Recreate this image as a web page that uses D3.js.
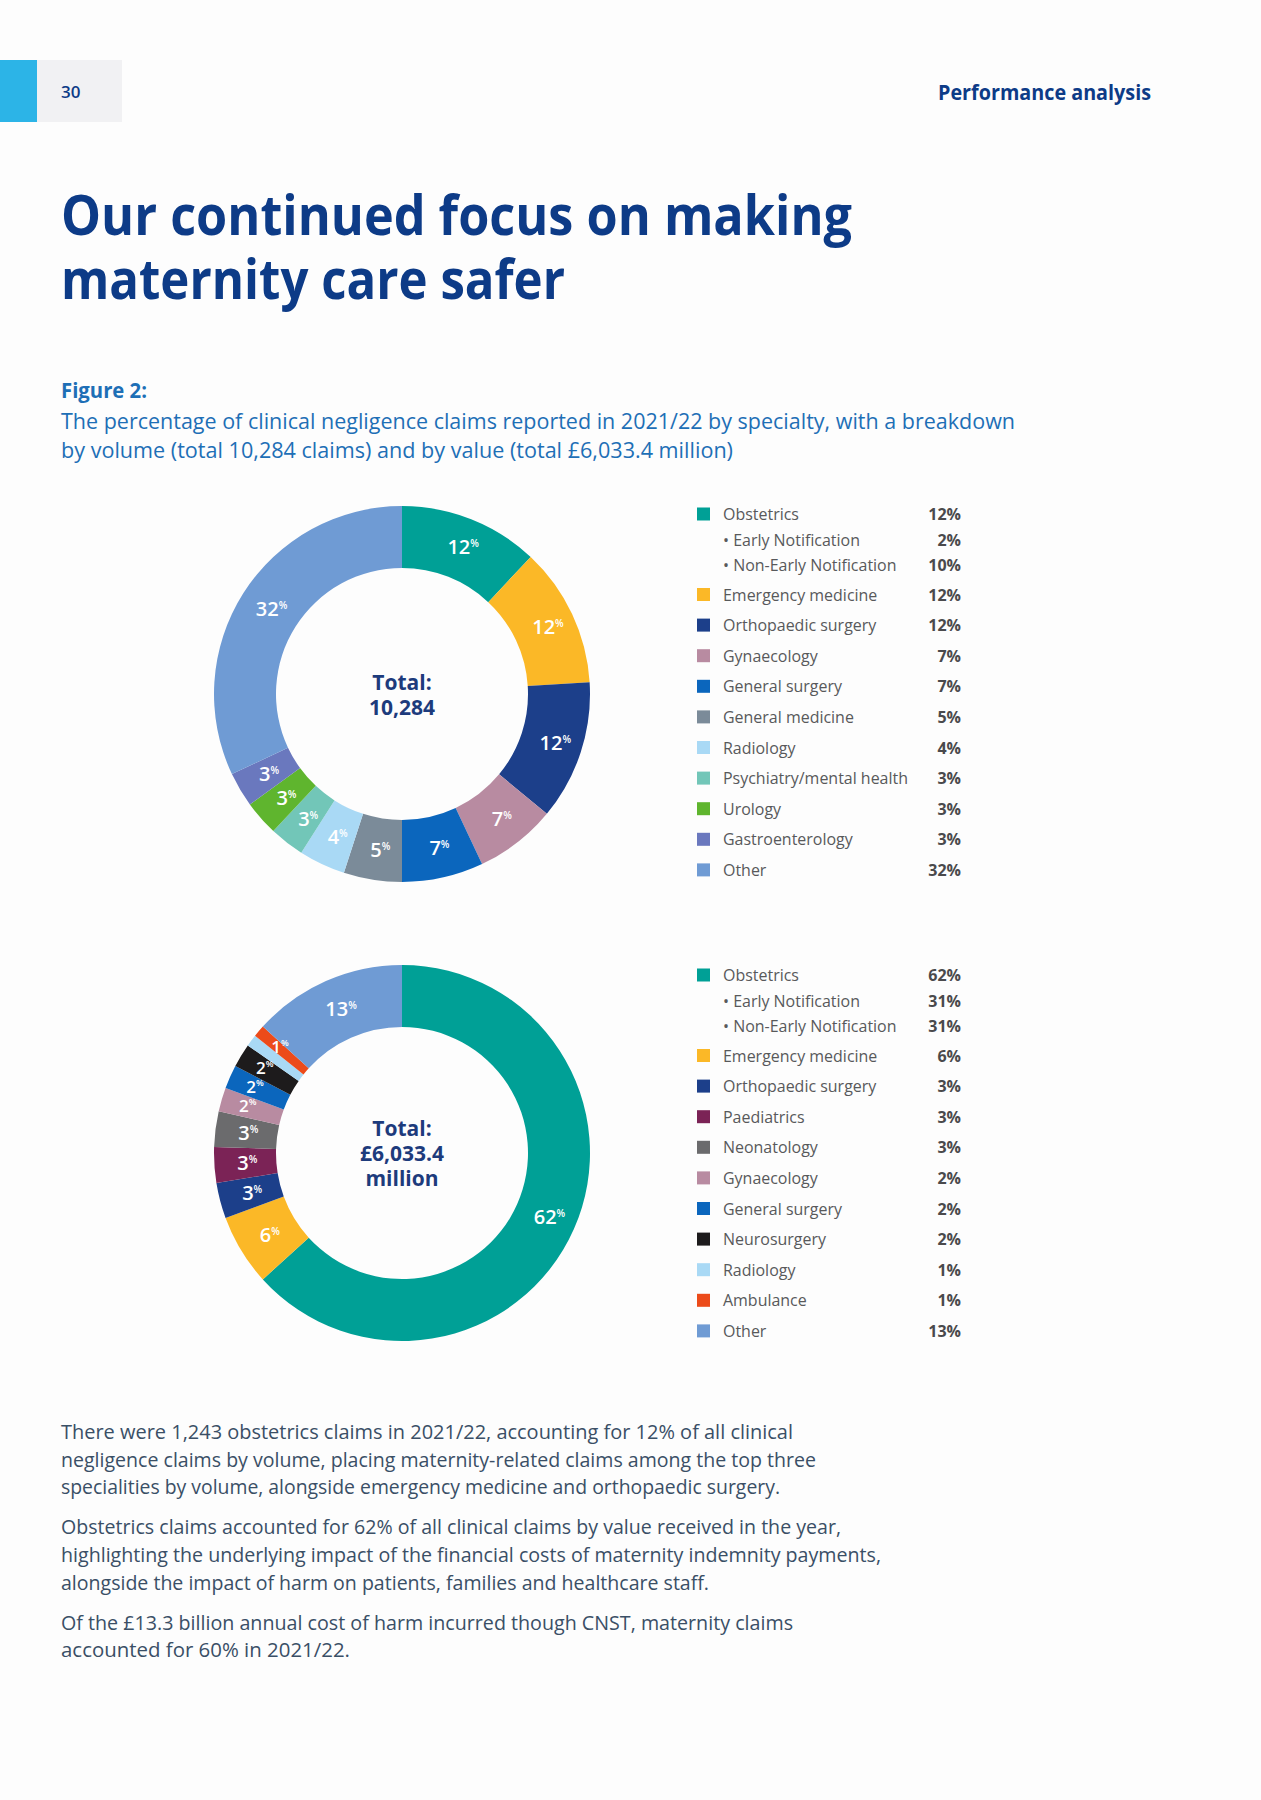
<!DOCTYPE html>
<html>
<head>
<meta charset="utf-8">
<script src="https://cdn.jsdelivr.net/npm/d3@7"></script>
<style>
  html, body { margin: 0; padding: 0; background: #fdfdfd; }
  svg { display: block; }
  text { font-family: "Open Sans", "Noto Sans", sans-serif; }
</style>
</head>
<body>
<svg id="page" width="1261" height="1800"></svg>
<script>
// ---------------- DATA ----------------
const volumeCategories = ["Obstetrics", "Emergency medicine", "Orthopaedic surgery", "Gynaecology",
  "General surgery", "General medicine", "Radiology", "Psychiatry/mental health", "Urology",
  "Gastroenterology", "Other"];
const volumeValues = [12, 12, 12, 7, 7, 5, 4, 3, 3, 3, 32];
const volumeObstetricsSub = ["Early Notification", "Non-Early Notification"];
const volumeObstetricsSubValues = [2, 10];
const volumeTotalLines = ["Total:", "10,284"];

const valueCategories = ["Obstetrics", "Emergency medicine", "Orthopaedic surgery", "Paediatrics",
  "Neonatology", "Gynaecology", "General surgery", "Neurosurgery", "Radiology", "Ambulance", "Other"];
const valueValues = [62, 6, 3, 3, 3, 2, 2, 2, 1, 1, 13];
const valueLabelShown = [true, true, true, true, true, true, true, true, false, true, true];
const valueObstetricsSub = ["Early Notification", "Non-Early Notification"];
const valueObstetricsSubValues = [31, 31];
const valueTotalLines = ["Total:", "£6,033.4", "million"];

const titleLines = ["Our continued focus on making", "maternity care safer"];
const captionLines = [
  "The percentage of clinical negligence claims reported in 2021/22 by specialty, with a breakdown",
  "by volume (total 10,284 claims) and by value (total £6,033.4 million)"
];
const bodyLines = [
  "There were 1,243 obstetrics claims in 2021/22, accounting for 12% of all clinical",
  "negligence claims by volume, placing maternity-related claims among the top three",
  "specialities by volume, alongside emergency medicine and orthopaedic surgery.",
  "Obstetrics claims accounted for 62% of all clinical claims by value received in the year,",
  "highlighting the underlying impact of the financial costs of maternity indemnity payments,",
  "alongside the impact of harm on patients, families and healthcare staff.",
  "Of the £13.3 billion annual cost of harm incurred though CNST, maternity claims",
  "accounted for 60% in 2021/22."
];

// ---------------- STYLES ----------------
const colorOf = {
  "Obstetrics": "#00a096",
  "Emergency medicine": "#fbb827",
  "Orthopaedic surgery": "#1c3f8a",
  "Gynaecology": "#b88ba1",
  "General surgery": "#0b66bd",
  "General medicine": "#7b8b99",
  "Radiology": "#a9d9f5",
  "Psychiatry/mental health": "#72c6b8",
  "Urology": "#5fb52e",
  "Gastroenterology": "#6a78be",
  "Other": "#6f9bd4",
  "Paediatrics": "#7b2356",
  "Neonatology": "#6b6b6d",
  "Neurosurgery": "#1d1b1c",
  "Ambulance": "#ec4b1a"
};
const navy = "#0d3b87";
const captionBlue = "#1e6fb6";
const bodyGrey = "#3a4f66";
const legendGrey = "#58595b";
const legendBold = "#4a4a4c";

const svg = d3.select("#page");

function fit(sel, w) {
  sel.attr("textLength", w).attr("lengthAdjust", "spacingAndGlyphs");
  return sel;
}

// ---------------- HEADER ----------------
svg.append("rect").attr("x", 0).attr("y", 60).attr("width", 37).attr("height", 62).attr("fill", "#2cb4e7");
svg.append("rect").attr("x", 37).attr("y", 60).attr("width", 85).attr("height", 62).attr("fill", "#f1f1f3");
svg.append("text").attr("x", 61).attr("y", 98).attr("font-size", 17).attr("font-weight", 600)
  .attr("fill", navy).text("30");
fit(svg.append("text").attr("x", 938).attr("y", 100).attr("font-size", 21).attr("font-weight", 700)
  .attr("fill", navy).text("Performance analysis"), 213);

// ---------------- TITLE ----------------
const titleW = [791, 504];
titleLines.forEach((t, i) => {
  fit(svg.append("text").attr("x", 61).attr("y", 235 + i * 64).attr("font-size", 56)
    .attr("font-weight", 700).attr("fill", navy).text(t), titleW[i]);
});

// ---------------- CAPTION ----------------
fit(svg.append("text").attr("x", 61).attr("y", 398).attr("font-size", 21).attr("font-weight", 700)
  .attr("fill", captionBlue).text("Figure 2:"), 86);
const capW = [954, 672];
captionLines.forEach((t, i) => {
  fit(svg.append("text").attr("x", 61).attr("y", 429 + i * 29).attr("font-size", 21)
    .attr("fill", captionBlue).text(t), capW[i]);
});

// ---------------- DONUTS ----------------
const R = 188, r = 126, labelR = 158;
const pie = d3.pie().sort(null).value(d => d.value).startAngle(0).endAngle(2 * Math.PI);
const arc = d3.arc().innerRadius(r).outerRadius(R);
const labelArc = d3.arc().innerRadius(labelR).outerRadius(labelR);
const smallLabelArc = d3.arc().innerRadius(164).outerRadius(164);

function donut(cx, cy, cats, vals, shown, totalLines) {
  const data = cats.map((c, i) => ({ cat: c, value: vals[i], show: shown ? shown[i] : true }));
  const g = svg.append("g").attr("transform", `translate(${cx},${cy})`);
  const arcs = pie(data);
  g.selectAll("path.slice").data(arcs).join("path").attr("class", "slice")
    .attr("d", arc).attr("fill", d => colorOf[d.data.cat]);
  const lab = g.selectAll("text.lab").data(arcs.filter(d => d.data.show)).join("text").attr("class", "lab")
    .attr("transform", d => {
      const small = d.data.value <= 2;
      const [x, y] = (small ? smallLabelArc : labelArc).centroid(d);
      return `translate(${x + 3},${y + (small ? 6 : 7)})`;
    })
    .attr("text-anchor", "middle").attr("fill", "#ffffff");
  lab.append("tspan").attr("font-size", d => d.data.value <= 2 ? 17 : 20).attr("font-weight", 600).text(d => d.data.value);
  lab.append("tspan").attr("font-size", d => d.data.value <= 2 ? 9 : 10).attr("font-weight", 600).attr("dy", -7).text("%");
  const n = totalLines.length;
  totalLines.forEach((t, i) => {
    g.append("text").attr("x", 0).attr("y", (i - (n - 1) / 2) * 25 + 8)
      .attr("text-anchor", "middle").attr("font-size", 21).attr("font-weight", 700)
      .attr("fill", "#1d3b7c").text(t);
  });
}
donut(402, 694, volumeCategories, volumeValues, null, volumeTotalLines);
donut(402, 1153, valueCategories, valueValues, valueLabelShown, valueTotalLines);

// ---------------- LEGENDS ----------------
const probe = svg.append("text").attr("font-size", 16.5).text("Psychiatry/mental health");
const legendFactor = 185 / probe.node().getComputedTextLength();
probe.remove();

function legend(y0, cats, vals, subs, subVals) {
  const g = svg.append("g");
  const rows = [];
  rows.push({ label: cats[0], value: vals[0], y: y0, sq: colorOf[cats[0]] });
  subs.forEach((s, i) => rows.push({ label: "• " + s, value: subVals[i], y: y0 + 25.5 * (i + 1), sq: null }));
  cats.slice(1).forEach((c, i) => rows.push({ label: c, value: vals[i + 1], y: y0 + 51 + 29.5 + 30.6 * i, sq: colorOf[c] }));
  rows.forEach(rw => {
    if (rw.sq) g.append("rect").attr("x", 697).attr("y", rw.y - 6.5).attr("width", 13).attr("height", 13).attr("fill", rw.sq);
    const t = g.append("text").attr("x", 723).attr("y", rw.y + 6).attr("font-size", 16.5)
      .attr("fill", legendGrey).text(rw.label);
    const w = t.node().getComputedTextLength();
    fit(t, w * legendFactor);
    g.append("text").attr("x", 961).attr("y", rw.y + 6).attr("font-size", 16).attr("font-weight", 700)
      .attr("text-anchor", "end").attr("fill", legendBold).text(rw.value + "%");
  });
}
legend(514, volumeCategories, volumeValues, volumeObstetricsSub, volumeObstetricsSubValues);
legend(975, valueCategories, valueValues, valueObstetricsSub, valueObstetricsSubValues);

// ---------------- BODY TEXT ----------------
const bodyY = [1432, 1460, 1487, 1527, 1555, 1583, 1623, 1650];
const bodyW = [732, 755, 719, 780, 820, 648, 732, 289];
bodyLines.forEach((t, i) => {
  fit(svg.append("text").attr("x", 61).attr("y", bodyY[i] + 7).attr("font-size", 20)
    .attr("fill", bodyGrey).text(t), bodyW[i]);
});
</script>
</body>
</html>
